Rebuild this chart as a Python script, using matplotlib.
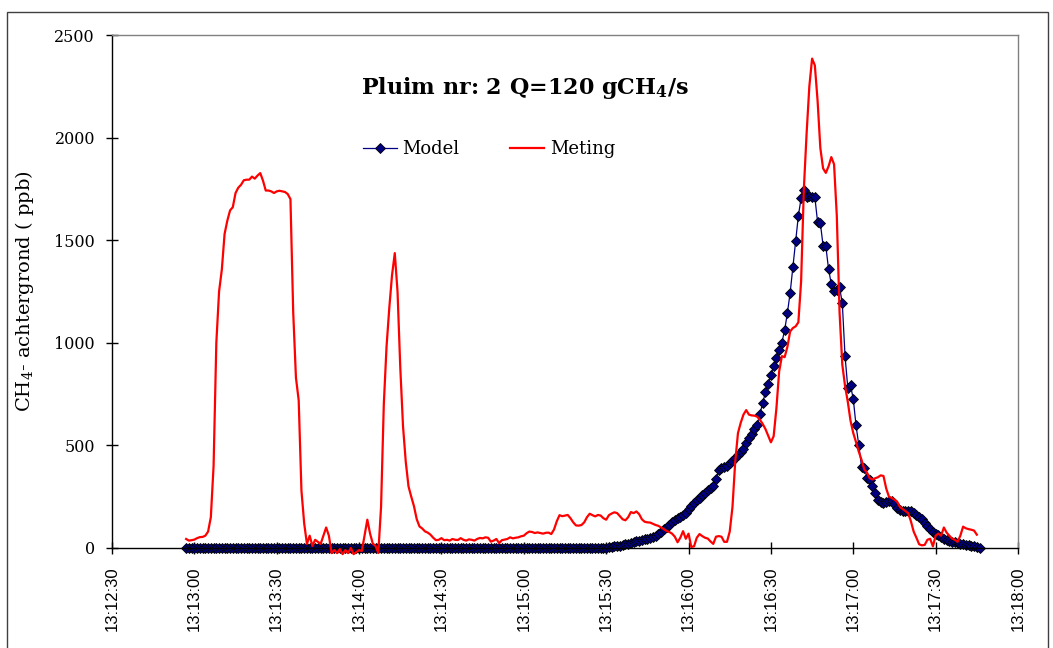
import pandas as pd
import matplotlib
matplotlib.use('Agg')
import matplotlib.pyplot as plt
import matplotlib.dates as mdates
from matplotlib.patches import Rectangle

plt.rcParams['font.family'] = ['DejaVu Serif']
plt.rcParams['mathtext.fontset'] = 'dejavuserif'

DAY = '2008-01-01'
X_START, X_END = '13:12:30', '13:18:00'

# pluim 2: model en meting, 1 s per sample (ppb boven achtergrond)
MODEL_START = '13:12:57'
model_zero_n = 154          # 13:12:57 .. 13:15:30 alles 0
model_rise = [
    4, 6, 8, 10, 12, 15, 18, 21, 24, 28,
    32, 35, 39, 42, 46, 50, 55, 60, 68, 80,
    92, 103, 114, 126, 135, 145, 153, 160, 172, 190,
    205, 218, 232, 242, 258, 270, 283, 292, 302, 334,
    378, 392, 395, 398, 412, 425, 440, 452, 466, 482,
    512, 534, 555, 578, 600, 655, 705, 760, 800, 845,
    886, 924, 963, 1001, 1062, 1145, 1243, 1369, 1497, 1619,
    1705, 1746, 1710, 1715, 1710, 1710, 1589, 1584, 1474, 1471,
    1359, 1286, 1253, 1257, 1270, 1194, 935, 782, 792, 726,
    598, 502, 397, 392, 343, 331, 301, 268, 236, 222,
    219, 222, 228, 230, 216, 194, 186, 181, 181, 180,
    178, 170, 162, 153, 140, 124, 108, 94, 80, 70,
    61, 52, 45, 39, 35, 31, 28, 23, 21, 19,
    17, 14, 12, 9, 5, 0,
]
model_vals = [0] * model_zero_n + model_rise

METING_START = '13:12:57'
meting_vals = [
    44, 36, 38, 41, 48, 53, 54, 60, 80, 150,
    400, 1000, 1250, 1356, 1530, 1595, 1645, 1661, 1730, 1756,
    1770, 1792, 1795, 1795, 1810, 1800, 1815, 1827, 1790, 1742,
    1742, 1738, 1730, 1738, 1741, 1738, 1735, 1725, 1700, 1150,
    830, 720, 280, 120, 20, 60, 10, 40, 30, 20,
    60, 100, 60, -25, -10, -25, -5, -30, -10, -25,
    0, -30, -20, -10, -15, 60, 138, 70, 21, 10,
    -24, 200, 700, 982, 1170, 1330, 1437, 1250, 880, 593,
    420, 300, 250, 203, 140, 105, 95, 81, 75, 65,
    50, 38, 40, 48, 38, 40, 36, 44, 40, 39,
    48, 40, 36, 42, 40, 36, 44, 49, 47, 52,
    50, 31, 36, 44, 24, 38, 41, 44, 52, 47,
    50, 52, 57, 60, 72, 80, 78, 73, 76, 73,
    70, 74, 75, 68, 90, 130, 160, 155, 158, 161,
    145, 125, 110, 109, 112, 125, 150, 167, 160, 154,
    161, 158, 145, 138, 160, 168, 174, 170, 155, 140,
    135, 150, 175, 170, 178, 165, 140, 128, 125, 124,
    118, 112, 108, 100, 92, 83, 78, 70, 55, 28,
    50, 82, 45, 70, 5, 8, 50, 68, 58, 50,
    46, 32, 20, 55, 58, 55, 30, 30, 80, 200,
    420, 560, 610, 650, 672, 650, 646, 645, 640, 625,
    605, 580, 548, 515, 545, 680, 860, 935, 930, 980,
    1055, 1072, 1080, 1100, 1300, 1750, 2020, 2250, 2385, 2352,
    2180, 1950, 1850, 1828, 1860, 1905, 1870, 1619, 1150, 894,
    790, 713, 620, 560, 516, 470, 430, 384, 367, 340,
    334, 340, 345, 354, 351, 290, 250, 244, 236, 225,
    200, 190, 180, 170, 130, 80, 50, 18, 13, 15,
    40, 45, 8, 60, 70, 60, 100, 75, 60, 46,
    40, 30, 60, 104, 96, 92, 89, 85, 65,
]

model_t = pd.date_range(f'{DAY} {MODEL_START}', periods=len(model_vals), freq='s')
meting_t = pd.date_range(f'{DAY} {METING_START}', periods=len(meting_vals), freq='s')

W, H = 1053, 648
fig = plt.figure(figsize=(W / 100, H / 100), dpi=100)
ax = fig.add_axes([112 / W, 1 - 548 / H, 906 / W, 513 / H])

# kader om de hele grafiek
fig.patches.append(Rectangle((7 / W, -0.1), 1041 / W, 1.1 - 12 / H,
                             transform=fig.transFigure, fill=False,
                             edgecolor='#404040', linewidth=1.0))

ax.plot(model_t, model_vals, color='#000080', linewidth=0.9, marker='D',
        markersize=5, markerfacecolor='#000080', markeredgecolor='black',
        markeredgewidth=0.6, label='Model', clip_on=False, zorder=2)
ax.plot(meting_t, meting_vals, color='#ff0000', linewidth=1.6,
        label='Meting', clip_on=False, zorder=3)

ax.set_xlim(pd.Timestamp(f'{DAY} {X_START}'), pd.Timestamp(f'{DAY} {X_END}'))
ax.set_ylim(0, 2500)
ax.set_yticks(range(0, 2501, 500))

ax.xaxis.set_major_locator(mdates.SecondLocator(bysecond=[0, 30]))
ax.xaxis.set_major_formatter(mdates.DateFormatter('%H:%M:%S'))
for lab in ax.get_xticklabels():
    lab.set_fontfamily('Liberation Sans')

ax.tick_params(axis='x', direction='inout', length=8.5, width=1, pad=9,
               labelsize=12, labelrotation=90)
ax.tick_params(axis='y', direction='inout', length=8.5, width=1, pad=8,
               labelsize=11.5)

for side in ('top', 'right'):
    ax.spines[side].set_color('#808080')
    ax.spines[side].set_linewidth(1.0)
for side in ('left', 'bottom'):
    ax.spines[side].set_color('black')
    ax.spines[side].set_linewidth(1.0)

ax.set_ylabel('CH$_4$- achtergrond ( ppb)', fontsize=14, labelpad=13)

fig.text(525 / W, 1 - 88 / H, r'Pluim nr: 2 Q=120 gCH$_{\mathbf{4}}$/s',
         ha='center', va='center', fontsize=16, fontweight='bold')

fig.legend(loc='center', bbox_to_anchor=(489 / W, 1 - 149 / H), ncol=2,
           frameon=False, fontsize=13, handlelength=1.9, handletextpad=0.3,
           columnspacing=2.8)

fig.savefig('out.png', dpi=100)
